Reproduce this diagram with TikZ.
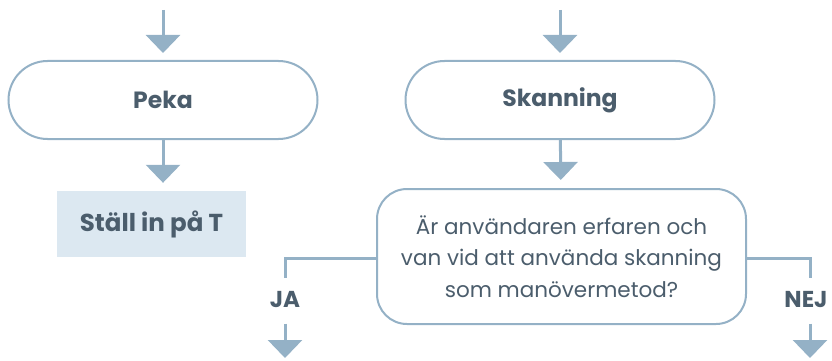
\documentclass[tikz,border=0pt]{standalone}
\usepackage{fontspec}
\setmainfont{Poppins}
\usetikzlibrary{arrows.meta}
\definecolor{linecol}{HTML}{94B1C6}
\definecolor{textcol}{HTML}{4B5D6C}
\definecolor{boxfill}{HTML}{DCE8F1}
\begin{document}
\begin{tikzpicture}[x=1pt,y=-1pt,
  flow/.style={draw=linecol,line width=3pt,-{Triangle[width=34pt,length=18pt]}},
  pill/.style={draw=linecol,line width=2pt,fill=white,rounded corners=39pt,minimum width=309pt,minimum height=78pt,font=\fontsize{23.5}{28}\selectfont\bfseries,text=textcol},
  question/.style={draw=linecol,line width=2pt,fill=white,rounded corners=30pt,minimum width=369pt,minimum height=135pt,align=center,font=\fontsize{21.5}{31.5}\selectfont,text=textcol},
  answer/.style={font=\fontsize{23}{28}\selectfont\bfseries,text=textcol}]

\useasboundingbox (0,0) rectangle (832,361);

\coordinate (pekatop) at (163,10);
\coordinate (skantop) at (560,10);
\coordinate (jaend) at (285,358);
\coordinate (nejend) at (810,358);

\node[pill] (peka) at (163,100) {Peka};
\node[pill] (skan) at (560,100) {Skanning};
\node[fill=boxfill,minimum width=189pt,minimum height=66pt,font=\fontsize{24.5}{28}\selectfont\bfseries,text=textcol] (stall) at (151.5,224) {Ställ in på T};
\node[question] (q) at (561.5,256.5) {Är användaren erfaren och\\van vid att använda skanning\\som manövermetod?};
\node[answer] (ja) at (285,300) {JA};
\node[answer] (nej) at (806,300) {NEJ};

\draw[flow,shorten >=7pt] (pekatop) -- (peka);
\draw[flow,shorten >=7pt] (skantop) -- (skan);
\draw[flow,shorten >=8pt] (peka.south) -- (peka.south |- stall.north);
\draw[flow,shorten >=8pt] (skan) -- (q);

\draw[linecol,line width=3pt,shorten >=10pt] (q.west |- 0,258) -| (ja);
\draw[linecol,line width=3pt,shorten >=10pt] (q.east |- 0,258) -| (nej.north -| nejend);
\draw[flow,shorten <=12pt] (ja) -- (jaend);
\draw[flow,shorten <=12pt] (nej.south -| nejend) -- (nejend);
\end{tikzpicture}
\end{document}
